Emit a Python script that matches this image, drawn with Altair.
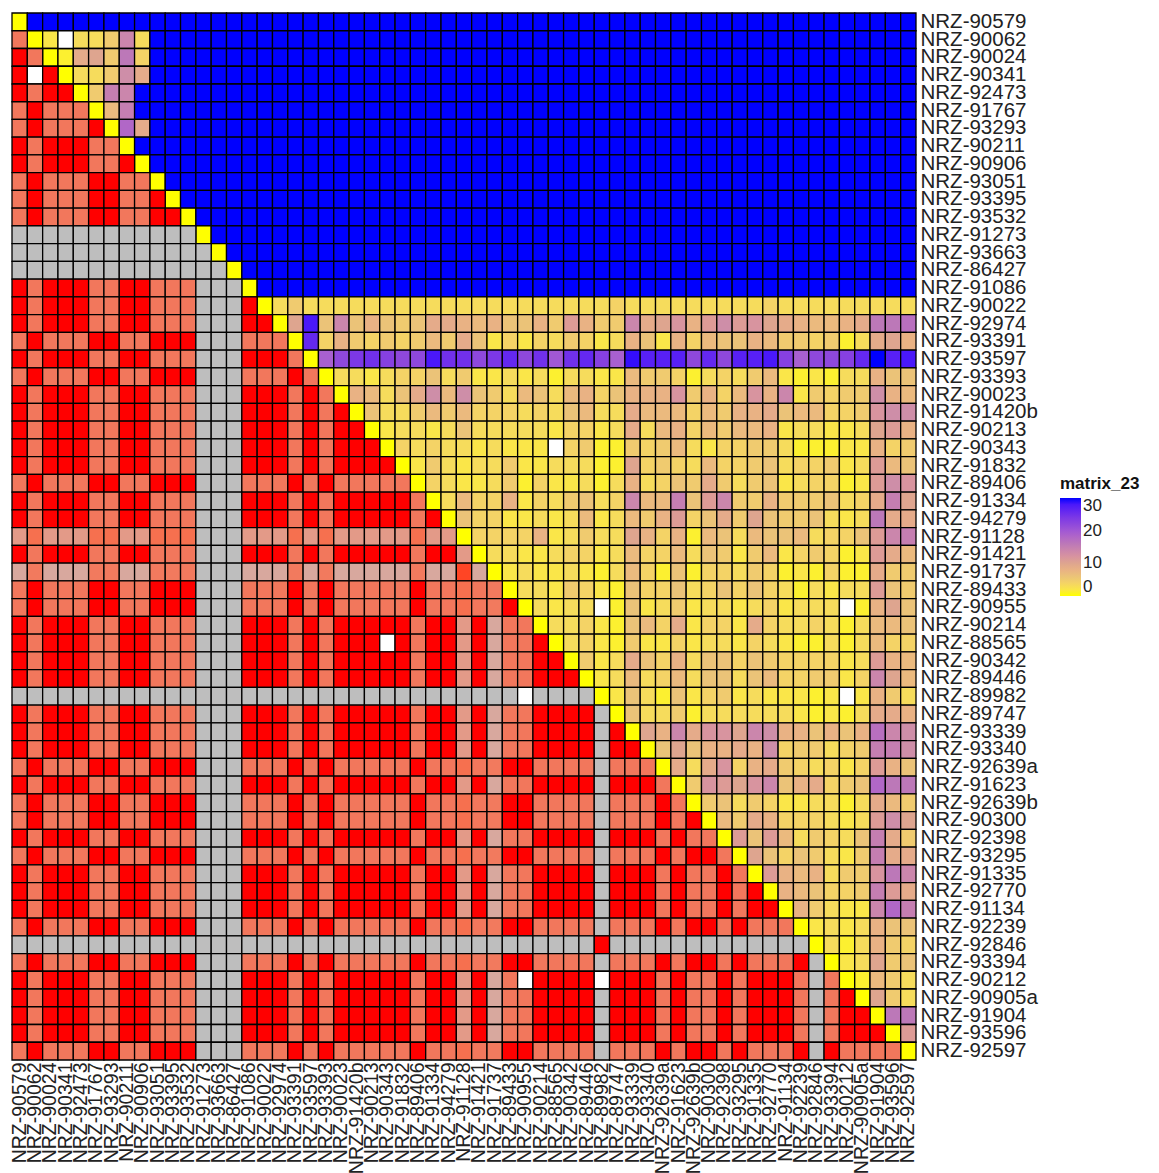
import altair as alt
import pandas as pd

samples = """NRZ-90579 NRZ-90062 NRZ-90024 NRZ-90341 NRZ-92473 NRZ-91767 NRZ-93293 NRZ-90211 NRZ-90906 NRZ-93051
NRZ-93395 NRZ-93532 NRZ-91273 NRZ-93663 NRZ-86427 NRZ-91086 NRZ-90022 NRZ-92974 NRZ-93391 NRZ-93597
NRZ-93393 NRZ-90023 NRZ-91420b NRZ-90213 NRZ-90343 NRZ-91832 NRZ-89406 NRZ-91334 NRZ-94279 NRZ-91128
NRZ-91421 NRZ-91737 NRZ-89433 NRZ-90955 NRZ-90214 NRZ-88565 NRZ-90342 NRZ-89446 NRZ-89982 NRZ-89747
NRZ-93339 NRZ-93340 NRZ-92639a NRZ-91623 NRZ-92639b NRZ-90300 NRZ-92398 NRZ-93295 NRZ-91335 NRZ-92770
NRZ-91134 NRZ-92239 NRZ-92846 NRZ-93394 NRZ-90212 NRZ-90905a NRZ-91904 NRZ-93596 NRZ-92597""".split()

# lower triangle: what each sample's row and column show
sample_group = "ABAAABBAABBBGGGAAABABAAAAABAAPAQBBAAAAGAAABABBABAAABGBAAAAB"
lower_exceptions = {(3, 1): "missing", (35, 24): "missing", (38, 33): "missing",
                    (54, 33): "missing", (54, 38): "missing", (52, 38): "same"}

# upper triangle read cell by cell, base-36 digit per cell (u = 30), "." = missing
upper_rows = [
    "u" * 58,
    "2.335e3" + "u" * 50,
    "19a5g4" + "u" * 50,
    "335d9" + "u" * 50,
    "5fe" + "u" * 51,
    "7f" + "u" * 51,
    "i9" + "u" * 50,
    "u" * 51, "u" * 50, "u" * 49, "u" * 48, "u" * 47, "u" * 46, "u" * 45, "u" * 44, "u" * 43,
    "35" + "3" * 20 + "4" + "3" * 9 + "4" + "3" * 9,
    "as6e686569" "98786685b8" "55e9ac8bdb" "ca987789gg" "h",
    "q485454575" "9624243542" "3862847668" "7554513 9a8".replace(" ", ""),
    "jmopnmmspp" "moqmpkpqnj" "trrrmqmrrs" "njmmnqurs",
    "3323446352" "2323133227" "5541343572" "12133866",
    "87369d7d65" "3763784688" "8c5847c8e2" "5455d87",
    "6335757444" "3436733977" "7475889677" "445cdd",
    "2332363333" "3244239378" "4757782332" "23ab8",
    "4343323222" ".451154573" "2445531112" "2845",
    "2532335223" "3311a45437" "4456344523" "b76",
    "4322351422" "3138346595" "356234412b" "dc",
    "3744824356" "34e77f6be5" "585556349f" "a",
    "6442232372" "3758b4695a" "6556323g99",
    "4444823533" "a848176376" "673446bef",
    "3322344237" "4473652572" "45412b97",
    "2322321374" "1614435412" "1411955",
    "3325421644" "6346464313" "233b65",
    "3233.16235" "2332342333" ".18a6",
    "3342167492" "4429433431" "3776",
    "3421522423" "3243211313" "744",
    "5239648366" "465444423b" "87",
    "2373473663" "67445524ea" "7",
    "2631624523" "22212.2853",
    "6335133333" "321213998",
    "a8e9ccaed8" "86868hed",
    "6a68898d45" "5345ffd",
    "939c489543" "424b86",
    "5cbace6894" "56igg",
    "56354223313975",
    "7598444323bda",
    "b6b735436f95",
    "a6465325f99",
    "b878355cge",
    "876445fb9",
    "85322eif",
    "2323866",
    "313854",
    "23a56",
    "1753",
    "a53",
    "gg",
    "b",
    "",
]

value_stops = [0, 1, 3, 6, 10, 13, 16, 19, 22, 26, 28, 30]
color_stops = ["#FFFF00", "#FCF030", "#F6DC5C", "#EBC378", "#DEA58F", "#CE8EA8", "#BC78B8",
               "#A860D0", "#8E48DC", "#6428F0", "#4A18FA", "#0000FF"]

lower_kinds = ["same", "cross", "pale_a", "pale_b", "paler_a", "paler_b", "pale_pair", "na", "missing"]
lower_colors = ["#FF0000", "#F2775C", "#E39A88", "#F6704F", "#D8A89E", "#F27A5E", "#FF4525", "#BEBEBE", "#FFFFFF"]


def lower_kind(r, c):
    if (r, c) in lower_exceptions:
        return lower_exceptions[(r, c)]
    a, b = sample_group[r], sample_group[c]
    if "G" in (a, b):
        return "na"
    pair = {a, b}
    if pair == {"P", "Q"}:
        return "pale_pair"
    if "P" in pair:
        return "pale_a" if "A" in pair or len(pair) == 1 else "pale_b"
    if "Q" in pair:
        return "paler_a" if "A" in pair or len(pair) == 1 else "paler_b"
    return "same" if a == b else "cross"


upper_cells, lower_cells = [], []
for r, row in enumerate(samples):
    upper_cells.append({"row": row, "col": row, "value": 0})
    assert len(upper_rows[r]) == 58 - r, r
    for offset, ch in enumerate(upper_rows[r]):
        c = r + 1 + offset
        if ch == ".":
            lower_cells.append({"row": row, "col": samples[c], "kind": "missing"})
        else:
            upper_cells.append({"row": row, "col": samples[c], "value": int(ch, 36)})
    for c in range(r):
        lower_cells.append({"row": row, "col": samples[c], "kind": lower_kind(r, c)})

FONT = "Liberation Sans"
x_enc = alt.X("col:N", sort=samples, scale=alt.Scale(domain=samples, paddingInner=0, paddingOuter=0),
              axis=alt.Axis(orient="bottom", title=None, ticks=False, domain=False, labelAngle=270,
                            labelFontSize=19.5, labelFont=FONT, labelColor="#222222", labelLimit=0,
                            labelOverlap=False, labelPadding=2, grid=False))
y_enc = alt.Y("row:N", sort=samples, scale=alt.Scale(domain=samples, paddingInner=0, paddingOuter=0),
              axis=alt.Axis(orient="right", title=None, ticks=False, domain=False,
                            labelFontSize=20.5, labelFont=FONT, labelColor="#222222", labelLimit=0,
                            labelOverlap=False, labelPadding=4, grid=False))

upper = alt.Chart(pd.DataFrame(upper_cells)).mark_rect(stroke="black", strokeWidth=1.3).encode(
    x=x_enc, y=y_enc,
    color=alt.Color("value:Q",
                    scale=alt.Scale(domain=value_stops, range=color_stops),
                    legend=alt.Legend(orient="none", legendX=1048, legendY=463, title="matrix_23",
                                      values=[0, 10, 20, 30], gradientLength=98, gradientThickness=21,
                                      titleFontSize=17, titleFont=FONT, titleFontWeight="bold",
                                      titleColor="#111111", labelFontSize=17, labelFont=FONT,
                                      labelColor="#222222", gradientStrokeWidth=0, titlePadding=5)),
)
lower = alt.Chart(pd.DataFrame(lower_cells)).mark_rect(stroke="black", strokeWidth=1.3).encode(
    x=x_enc, y=y_enc,
    color=alt.Color("kind:N", scale=alt.Scale(domain=lower_kinds, range=lower_colors), legend=None),
)

chart = (
    alt.layer(upper, lower)
    .resolve_scale(color="independent")
    .properties(width=904, height=1047, padding={"left": 1, "top": 3, "right": 0, "bottom": 0},
                background="white")
    .configure_view(stroke=None)
)

chart.save("out.html", embed_options={"renderer": "svg", "actions": False})
